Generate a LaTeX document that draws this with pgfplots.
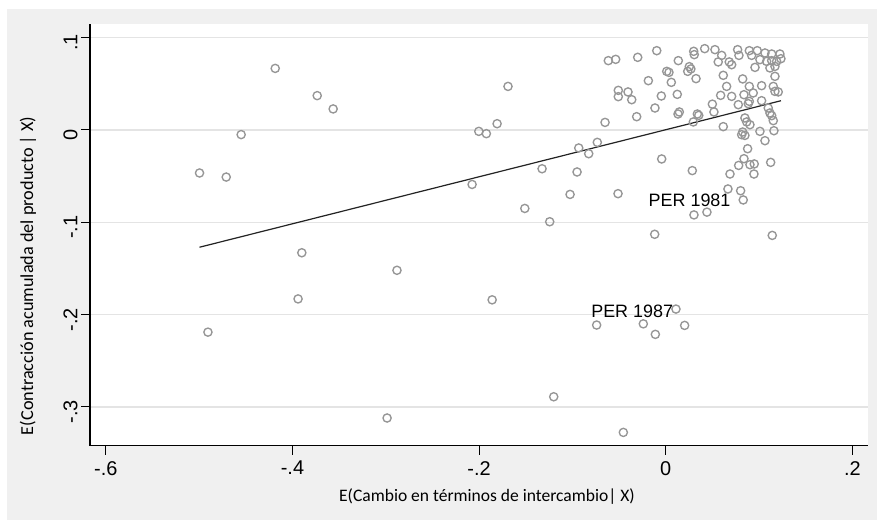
\documentclass[border=0pt]{standalone}
\usepackage{fontspec}
\setmainfont{Liberation Sans}
\newfontfamily\calibri{Carlito}
\usepackage{pgfplots}
\pgfplotsset{compat=1.18}
\usepackage{pgfplotstable}

\definecolor{bggray}{RGB}{240,240,240}
\definecolor{gridgray}{RGB}{228,228,228}
\definecolor{markgray}{RGB}{150,150,150}
\definecolor{fitline}{RGB}{35,35,35}

% E(x|X), E(y|X) pairs
\pgfplotstableread{
x y
-0.4996 -0.0466
-0.4710 -0.0510
-0.4550 -0.0050
-0.4185 0.0667
-0.4906 -0.2190
-0.3900 -0.1330
-0.3940 -0.1830
-0.3735 0.0372
-0.3564 0.0228
-0.2880 -0.1520
-0.2986 -0.3120
-0.1690 0.0472
-0.1807 0.0068
-0.2003 -0.0015
-0.1922 -0.0040
-0.2075 -0.0590
-0.1860 -0.1840
-0.1325 -0.0420
-0.1510 -0.0850
-0.1243 -0.0994
-0.1200 -0.2890
-0.1025 -0.0698
-0.0950 -0.0455
-0.0932 -0.0195
-0.0825 -0.0257
-0.0733 -0.0134
-0.0740 -0.2113
-0.0511 -0.0690
-0.0454 -0.3276
-0.0240 -0.2100
-0.0111 -0.2214
0.0203 -0.2117
0.0110 -0.1940
-0.0118 -0.1130
0.0303 -0.0920
0.0442 -0.0890
-0.0043 -0.0314
0.0285 -0.0440
0.1142 -0.1142
-0.0615 0.0751
-0.0536 0.0765
-0.0300 0.0787
-0.0096 0.0859
0.0300 0.0852
0.0306 0.0816
0.0418 0.0881
0.0135 0.0751
0.0253 0.0686
0.0236 0.0635
0.0270 0.0661
0.0325 0.0556
0.0011 0.0635
0.0035 0.0624
-0.0186 0.0534
0.0060 0.0516
-0.0508 0.0429
-0.0404 0.0412
-0.0508 0.0361
-0.0364 0.0328
-0.0047 0.0368
0.0124 0.0386
-0.0115 0.0238
0.0146 0.0195
0.0132 0.0173
0.0339 0.0173
0.0354 0.0158
0.0296 0.0087
-0.0311 0.0144
-0.0650 0.0082
0.0500 0.0280
0.0528 0.0870
0.0600 0.0808
0.0563 0.0737
0.0681 0.0737
0.0707 0.0707
0.0771 0.0870
0.0785 0.0808
0.0896 0.0859
0.0921 0.0808
0.0981 0.0859
0.1064 0.0834
0.1136 0.0823
0.1224 0.0823
0.1235 0.0772
0.1189 0.0743
0.1136 0.0751
0.1082 0.0743
0.1010 0.0762
0.0957 0.0678
0.1117 0.0672
0.1171 0.0689
0.0617 0.0592
0.0825 0.0553
0.1171 0.0581
0.0653 0.0472
0.0896 0.0472
0.1028 0.0480
0.1153 0.0472
0.1171 0.0418
0.1206 0.0412
0.0938 0.0401
0.0839 0.0382
0.0589 0.0375
0.0707 0.0364
0.0778 0.0274
0.0896 0.0310
0.0885 0.0285
0.1028 0.0317
0.0517 0.0195
0.1099 0.0238
0.1117 0.0184
0.1136 0.0155
0.1153 0.0101
0.0849 0.0130
0.0868 0.0087
0.0903 0.0057
0.0617 0.0036
0.1010 -0.0015
0.1160 -0.0008
0.0825 -0.0022
0.0814 -0.0051
0.0849 -0.0059
0.1064 -0.0116
0.0878 -0.0203
0.0839 -0.0311
0.0782 -0.0384
0.0903 -0.0376
0.0949 -0.0368
0.0946 -0.0477
0.1125 -0.0351
0.0689 -0.0477
0.0667 -0.0639
0.0803 -0.0658
0.0831 -0.0758
}\scatterdata

\begin{document}
\begin{tikzpicture}
\fill[white] (0,0) rectangle (877bp,520bp);
\fill[bggray] (7bp,0) rectangle (877bp,511bp);
\begin{axis}[
    at={(90bp,74.3bp)}, anchor=south west,
    scale only axis,
    width=777.7bp, height=421.7bp,
    xmin=-0.617, xmax=0.2165,
    ymin=-0.342, ymax=0.1148,
    axis background/.style={fill=white},
    axis x line*=bottom, axis y line*=left,
    axis line style={black, line width=1.2bp, -},
    xtick={-0.6,-0.4,-0.2,0,0.2},
    xticklabels={-.6,-.4,-.2,0,.2},
    ytick={-0.3,-0.2,-0.1,0,0.1},
    yticklabels={-.3,-.2,-.1,0,.1},
    tick align=outside,
    major tick length=9bp,
    tick style={black, line width=1bp},
    ymajorgrids,
    grid style={gridgray, line width=1.2bp},
    ticklabel style={font=\fontsize{20}{24}\selectfont},
    xticklabel style={yshift=-3bp},
    yticklabel style={rotate=90, anchor=south, xshift=-5bp},
    xlabel={E(Cambio en términos de intercambio| X)},
    ylabel={E(Contracción acumulada del producto | X)},
    xlabel style={font=\calibri\fontsize{17.6}{21}\selectfont,
        at={(axis description cs:0.5105,-0.1217)}, anchor=center},
    ylabel style={font=\calibri\fontsize{18.3}{21}\selectfont,
        at={(axis description cs:-0.0797,0.403)}, anchor=center},
]
\addplot[only marks, mark=o, mark size=4.1bp,
    mark options={draw=markgray, line width=1.35bp}] table {\scatterdata};
\addplot[fitline, line width=1.2bp, no marks] coordinates {
    (-0.4996,-0.1270) (0.1235,0.0317)
};
\node[anchor=east, inner sep=0pt, font=\fontsize{18}{21}\selectfont]
    at (axis cs:0.0081,-0.1965) {PER 1987};
\node[anchor=east, inner sep=0pt, font=\fontsize{18}{21}\selectfont]
    at (axis cs:0.0696,-0.0763) {PER 1981};
\end{axis}
\end{tikzpicture}
\end{document}
